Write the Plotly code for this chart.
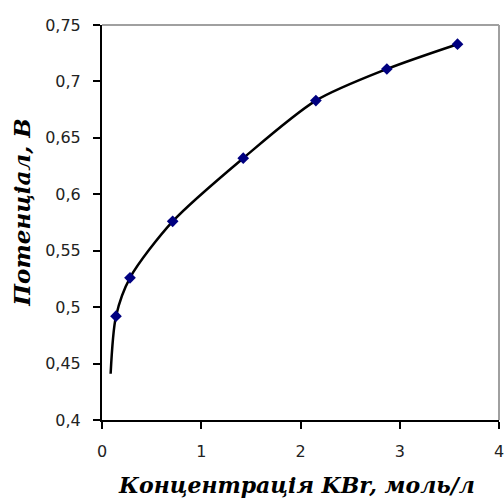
import plotly.graph_objects as go

# Measured points (concentration KBr, mol/L ; potential, V)
conc = [0.141, 0.282, 0.712, 1.423, 2.155, 2.870, 3.582]
potential = [0.492, 0.526, 0.576, 0.632, 0.683, 0.711, 0.733]

# Smoothed curve (starts slightly before first point)
curve_x = [0.087, 0.141, 0.282, 0.712, 1.423, 2.155, 2.870, 3.582]
curve_y = [0.441, 0.492, 0.526, 0.576, 0.632, 0.683, 0.711, 0.733]

x_ticks = [0, 1, 2, 3, 4]
y_ticks = [0.4, 0.45, 0.5, 0.55, 0.6, 0.65, 0.7, 0.75]

x_title = "Концентрація KBr, моль/л"
y_title = "Потенціал, В"

fig = go.Figure()
fig.add_trace(go.Scatter(x=curve_x, y=curve_y, mode="lines",
                         line=dict(color="black", width=2.5, shape="spline", smoothing=0.8),
                         hoverinfo="skip", showlegend=False))
fig.add_trace(go.Scatter(x=conc, y=potential, mode="markers",
                         marker=dict(symbol="diamond", color="#000080", size=9,
                                     line=dict(width=0)),
                         showlegend=False))

axis_font = dict(family="DejaVu Sans", size=16, color="#222222")

fig.update_layout(
    width=504, height=500,
    margin=dict(l=102, r=5, t=25, b=80),
    paper_bgcolor="white", plot_bgcolor="white",
    separators=", ",
    xaxis=dict(range=[0, 4], tickvals=x_ticks, showgrid=False, zeroline=False,
               showline=True, linecolor="black", linewidth=2, automargin=False,
               ticks="outside", ticklen=7, tickwidth=1.5, tickcolor="black",
               tickfont=axis_font, ticklabelstandoff=9, ticklabeloverflow="allow"),
    yaxis=dict(range=[0.4, 0.75], tickvals=y_ticks, showgrid=False, zeroline=False,
               showline=True, linecolor="black", linewidth=2, automargin=False,
               ticks="outside", ticklen=7, tickwidth=1.5, tickcolor="black",
               tickfont=axis_font, ticklabelstandoff=9, ticklabeloverflow="allow"),
    shapes=[
        dict(type="line", xref="x domain", yref="y domain", x0=0, x1=1, y0=1, y1=1,
             line=dict(color="#a0a0a0", width=2)),
        dict(type="line", xref="x domain", yref="y domain", x0=1, x1=1, y0=0, y1=1,
             line=dict(color="#a0a0a0", width=2)),
    ],
    annotations=[
        dict(text="<b><i>" + x_title + "</i></b>", xref="paper", yref="paper",
             x=0.491, y=-0.165, xanchor="center", yanchor="middle",
             showarrow=False, font=dict(family="DejaVu Serif", size=22, color="black")),
        dict(text="<b><i>" + y_title + "</i></b>", xref="paper", yref="paper",
             x=-0.2015, y=0.525, xanchor="center", yanchor="middle", textangle=-90,
             showarrow=False, font=dict(family="DejaVu Serif", size=23, color="black")),
    ],
)

fig.write_html("out.html")
